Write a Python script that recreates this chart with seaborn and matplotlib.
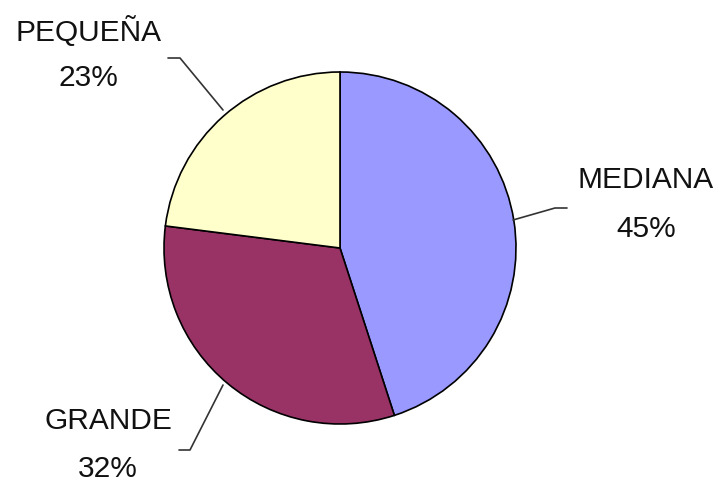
import matplotlib
matplotlib.use('Agg')
import matplotlib.pyplot as plt
import seaborn as sns

# tamaño de empresa
categories = ['MEDIANA', 'GRANDE', 'PEQUEÑA']
shares = [45, 32, 23]
colors = ['#9999FF', '#993366', '#FFFFCC']

sns.set_style('white')
plt.rcParams['font.family'] = ['Liberation Sans', 'DejaVu Sans']

W, H = 722, 487
fig = plt.figure(figsize=(W / 100, H / 100), dpi=100)
ax = fig.add_axes([0, 0, 1, 1])

# pie in pixel-like coordinates (y measured from bottom)
ax.pie(shares, colors=colors, startangle=90, counterclock=False,
       center=(340, H - 248), radius=176,
       wedgeprops=dict(edgecolor='black', linewidth=1.2))

# pie() resets the limits, so set them afterwards
ax.set_xlim(0, W)
ax.set_ylim(0, H)
ax.set_aspect('auto')
ax.axis('off')

# label positions (pixels from top-left) and leader lines
label_pos = {'MEDIANA': (646, 180, 229),
             'GRANDE': (108, 421, 469),
             'PEQUEÑA': (88, 31, 78)}
leaders = {'MEDIANA': [(513, 220), (555, 208), (567, 208)],
           'GRANDE': [(179, 450), (190, 450), (223, 385)],
           'PEQUEÑA': [(168, 58), (180, 58), (223, 110)]}

for name, pct in zip(categories, shares):
    x, y1, y2 = label_pos[name]
    ax.text(x, H - y1, name, ha='center', va='center', fontsize=21.5, color='#111111')
    ax.text(x, H - y2, f'{pct}%', ha='center', va='center', fontsize=21.5, color='#111111')
    xs = [p[0] for p in leaders[name]]
    ys = [H - p[1] for p in leaders[name]]
    ax.plot(xs, ys, color='#333333', linewidth=1.2)

fig.savefig('out.png', dpi=100, facecolor='white')
